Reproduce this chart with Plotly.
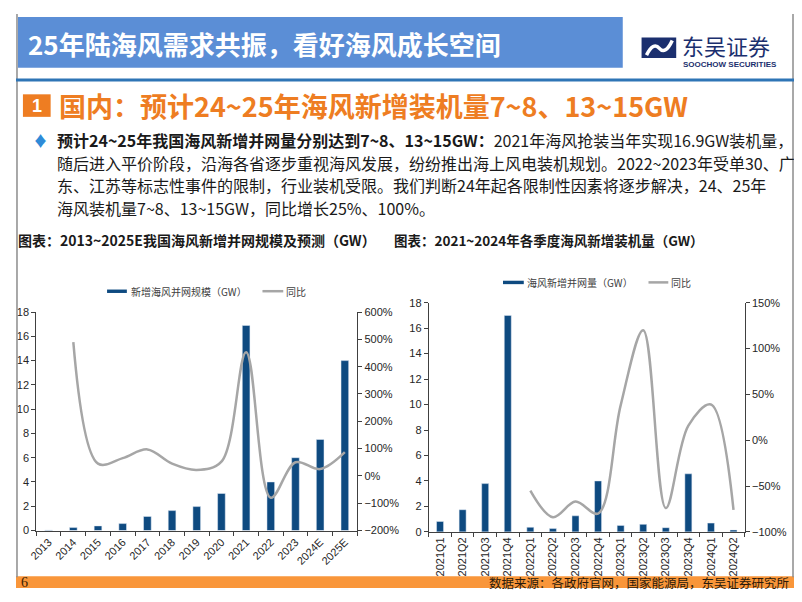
import plotly.graph_objects as go

# ---------------- data ----------------
years = ['2013', '2014', '2015', '2016', '2017', '2018', '2019', '2020',
         '2021', '2022', '2023', '2024E', '2025E']
annual_gw = [0.04, 0.24, 0.38, 0.57, 1.16, 1.64, 1.97, 3.05, 16.9, 4.0, 6.0, 7.5, 14.0]
annual_yoy = [None, 4.9, 0.45, 0.65, 0.97, 0.45, 0.22, 0.52, 4.53, -0.80, 0.50, 0.25, 0.87]

quarters = ['2021Q1', '2021Q2', '2021Q3', '2021Q4', '2022Q1', '2022Q2', '2022Q3',
            '2022Q4', '2023Q1', '2023Q2', '2023Q3', '2023Q4', '2024Q1', '2024Q2']
quarter_gw = [0.82, 1.74, 3.79, 17.0, 0.36, 0.26, 1.26, 4.0, 0.51, 0.59, 0.33, 4.56, 0.69, 0.15]
quarter_yoy = [None, None, None, None, -0.55, -0.84, -0.67, -0.80, 0.38, 1.20, -0.74, 0.16, 0.39, -0.76]

left_y_ticks = [0, 2, 4, 6, 8, 10, 12, 14, 16, 18]

# The page body keeps an 8px margin, so the figure is 786x586 and every
# position below is given in page pixels, shifted by that margin.
OFF = 8
W, H = 802 - 2 * OFF, 602 - 2 * OFF
def px(x):
    return (x - OFF) / W
def py(y):
    return 1 - (y - OFF) / H

BAR = '#0E4A80'
LINE = '#A6A6A6'
AX = '#404040'
TICKF = dict(family='Liberation Sans, Arial, sans-serif', size=11, color='#262626')
CJK = 'Noto Sans CJK SC, sans-serif'

fig = go.Figure()

fig.add_trace(go.Bar(x=years, y=annual_gw, marker_color=BAR, width=0.31,
                     name='新增海风并网规模（GW）', xaxis='x', yaxis='y', showlegend=False))
fig.add_trace(go.Scatter(x=years, y=annual_yoy, mode='lines', line=dict(color=LINE, width=2.5, shape='spline'),
                         name='同比', xaxis='x', yaxis='y2', showlegend=False, connectgaps=False))
fig.add_trace(go.Bar(x=quarters, y=quarter_gw, marker_color=BAR, width=0.31,
                     name='海风新增并网量（GW）', xaxis='x2', yaxis='y3', showlegend=False))
fig.add_trace(go.Scatter(x=quarters, y=quarter_yoy, mode='lines', line=dict(color=LINE, width=2.5, shape='spline'),
                         name='同比', xaxis='x2', yaxis='y4', showlegend=False, connectgaps=False))

common_x = dict(type='category', showline=True, linecolor=AX, linewidth=1, ticks='outside',
                tickson='boundaries', ticklen=4, tickcolor=AX, showgrid=False, zeroline=False,
                tickfont=TICKF)
common_y = dict(showline=True, linecolor=AX, linewidth=1, ticks='outside', ticklen=4, tickcolor=AX,
                showgrid=False, zeroline=False, tickfont=TICKF)

fig.update_layout(
    width=W, height=H, margin=dict(l=0, r=0, t=0, b=0),
    paper_bgcolor='white', plot_bgcolor='rgba(0,0,0,0)',
    xaxis=dict(common_x, domain=[px(28.5), px(352.7)], anchor='y', tickangle=-45),
    yaxis=dict(common_y, domain=[py(535.3), py(312.3)], anchor='x', range=[0, 18],
               tickvals=left_y_ticks),
    yaxis2=dict(common_y, overlaying='y', side='right', anchor='x', range=[-2, 6], dtick=1,
                tickformat='.0%'),
    xaxis2=dict(common_x, domain=[px(425), px(744.3)], anchor='y3', tickangle=-90),
    yaxis3=dict(common_y, domain=[py(536.7), py(302.7)], anchor='x2', range=[0, 18],
                tickvals=left_y_ticks),
    yaxis4=dict(common_y, overlaying='y3', side='right', anchor='x2', range=[-1, 1.5], dtick=0.5,
                tickformat='.0%'),
)

shapes = []
ann = []

def rect(x0, y0, x1, y1, color, line=None):
    shapes.append(dict(type='rect', xref='paper', yref='paper', x0=px(x0), x1=px(x1),
                       y0=py(y1), y1=py(y0), fillcolor=color,
                       line=dict(width=0) if line is None else line, layer='below'))

def hline(x0, x1, y, color, width):
    shapes.append(dict(type='line', xref='paper', yref='paper', x0=px(x0), x1=px(x1),
                       y0=py(y), y1=py(y), line=dict(color=color, width=width)))

def vline(x, y0, y1, color, width):
    shapes.append(dict(type='line', xref='paper', yref='paper', x0=px(x), x1=px(x),
                       y0=py(y0), y1=py(y1), line=dict(color=color, width=width)))

def text(x, y, s, size, color, xanchor='left', family=CJK, yanchor='middle'):
    ann.append(dict(xref='paper', yref='paper', x=px(x), y=py(y), text=s, showarrow=False,
                    xanchor=xanchor, yanchor=yanchor, align='left', borderpad=0,
                    font=dict(family=family, size=size, color=color)))

# slide border (left / right edges)
vline(9, 8, 583, '#8C8C8C', 1.5)
vline(793, 8, 583, '#8C8C8C', 1.5)

# header
rect(10, 11, 621, 63, '#5B8ED6')
text(19, 38, '<b>25年陆海风需求共振，看好海风成长空间</b>', 26, 'white')
hline(8, 794, 75.5, '#2E75B6', 3)

# logo
rect(640, 32, 675, 53, '#1B2F6E')
shapes.append(dict(type='path', xref='paper', yref='paper',
                   path=f'M {px(645)},{py(50)} Q {px(652)},{py(36)} {px(658)},{py(43)} T {px(671)},{py(35)}',
                   line=dict(color='white', width=3.5)))
text(680, 40, '东吴证券', 22, '#1B2F6E')
text(681, 60, '<b>SOOCHOW SECURITIES</b>', 8, '#1B2F6E', family='Liberation Sans, Arial, sans-serif')

# section heading
rect(15, 90, 43, 113, '#EE7D22')
text(29, 101.5, '<b>1</b>', 18, 'white', xanchor='center', family='Liberation Sans, Arial, sans-serif')
text(50, 101.5, '<b>国内：预计24~25年海风新增装机量7~8、13~15GW</b>', 27, '#EE7D22')

# bullet
text(33, 137, '♦', 15, '#2E8BD8', xanchor='center')
lines = [
    '<b>预计24~25年我国海风新增并网量分别达到7~8、13~15GW：</b>2021年海风抢装当年实现16.9GW装机量，',
    '随后进入平价阶段，沿海各省逐步重视海风发展，纷纷推出海上风电装机规划。2022~2023年受单30、广',
    '东、江苏等标志性事件的限制，行业装机受限。我们判断24年起各限制性因素将逐步解决，24、25年',
    '海风装机量7~8、13~15GW，同比增长25%、100%。',
]
for i, s in enumerate(lines):
    text(48, 137 + i * 23, s, 16, '#1A1A1A')

# chart titles
text(9, 239, '<b>图表：2013~2025E我国海风新增并网规模及预测（GW）</b>', 14, '#1A1A1A')
text(389, 239, '<b>图表：2021~2024年各季度海风新增装机量（GW）</b>', 13.5, '#1A1A1A')

# legends
rect(100, 289.3, 120, 292.8, BAR)
text(123, 291, '新增海风并网规模（GW）', 10, '#404040')
hline(257, 278, 291, LINE, 2.5)
text(280, 291, '同比', 10, '#404040')

rect(500, 280.3, 521, 283.8, BAR)
text(523, 282, '海风新增并网量（GW）', 10, '#404040')
hline(647, 667, 282, LINE, 2.5)
text(669, 282, '同比', 10, '#404040')

# footer
rect(8, 582, 794, 594, '#F9963A')
text(12, 588.5, '6', 14, '#3A2000', family='Liberation Serif, serif')
text(790, 588.5, '数据来源：各政府官网，国家能源局，东吴证券研究所', 12.5, '#2B1A0A', xanchor='right')

fig.update_layout(shapes=shapes, annotations=ann)
fig.write_html('out.html', config={'displayModeBar': False})
